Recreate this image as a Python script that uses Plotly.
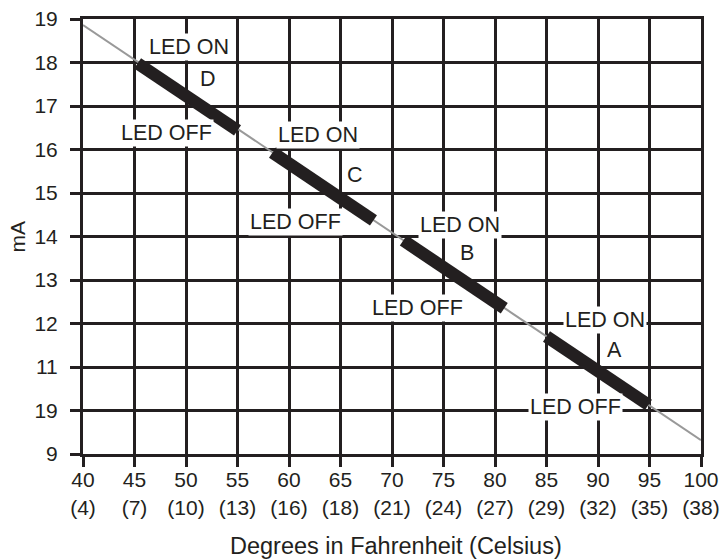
import plotly.graph_objects as go

# Data
trend_x = [40, 100]
trend_y = [18.86, 9.32]

seg_names = ["D", "C", "B", "A"]
seg_x = [[45.3, 55.0], [58.4, 68.2], [71.1, 80.9], [85.0, 94.9]]
seg_y = [[17.98, 16.44], [15.93, 14.37], [13.91, 12.35], [11.70, 10.13]]

on_pos = [(50.3, 18.36), (62.8, 16.33), (76.6, 14.26), (90.7, 12.08)]
letter_pos = [(52.1, 17.62), (66.4, 15.41), (77.3, 13.62), (91.6, 11.39)]
off_pos = [(48.1, 16.38), (60.6, 14.33), (72.5, 12.36), (87.8, 10.08)]

x_ticks = [40, 45, 50, 55, 60, 65, 70, 75, 80, 85, 90, 95, 100]
x_celsius = [4, 7, 10, 13, 16, 18, 21, 24, 27, 29, 32, 35, 38]
y_ticks = [9, 10, 11, 12, 13, 14, 15, 16, 17, 18, 19]
y_labels = ["9", "19", "11", "12", "13", "14", "15", "16", "17", "18", "19"]

INK = "#231f20"
FONT = "Liberation Sans, Arial, sans-serif"
LBL = 21.5

fig = go.Figure()
fig.add_trace(go.Scatter(x=trend_x, y=trend_y, mode="lines",
                         line=dict(color="#999999", width=2), hoverinfo="skip"))
for name, xs, ys in zip(seg_names, seg_x, seg_y):
    fig.add_trace(go.Scatter(x=xs, y=ys, mode="lines", name=name,
                             line=dict(color=INK, width=12.5)))

annotations = []
for (x, y) in on_pos:
    annotations.append(dict(x=x, y=y, text="LED ON", showarrow=False,
                            bgcolor="white", borderpad=1,
                            font=dict(size=LBL, color=INK, family=FONT)))
for name, (x, y) in zip(seg_names, letter_pos):
    annotations.append(dict(x=x, y=y, text=name, showarrow=False,
                            font=dict(size=LBL, color=INK, family=FONT)))
for (x, y) in off_pos:
    annotations.append(dict(x=x, y=y, text="LED OFF", showarrow=False,
                            bgcolor="white", borderpad=1,
                            font=dict(size=LBL, color=INK, family=FONT)))

# axis titles
annotations.append(dict(x=0.5, y=0, xref="paper", yref="paper", yshift=-92,
                        xshift=4, yanchor="middle", showarrow=False,
                        text="Degrees in Fahrenheit (Celsius)",
                        font=dict(size=23.5, color=INK, family=FONT)))
annotations.append(dict(x=0, y=0.5, xref="paper", yref="paper", xshift=-66,
                        xanchor="center", showarrow=False, textangle=-90,
                        borderpad=0,
                        text="mA", font=dict(size=21, color=INK, family=FONT)))

fig.update_layout(
    width=722, height=560,
    margin=dict(l=83, r=21, t=19, b=106),
    paper_bgcolor="white", plot_bgcolor="white",
    showlegend=False,
    font=dict(family=FONT, size=21, color=INK),
    annotations=annotations,
    xaxis=dict(
        range=[40, 100], tickvals=x_ticks,
        ticktext=[f"{f}<br>({c})" for f, c in zip(x_ticks, x_celsius)],
        showgrid=True, gridcolor=INK, gridwidth=3,
        showline=True, mirror=True, linecolor=INK, linewidth=3,
        ticks="outside", ticklen=10, tickwidth=3, tickcolor=INK,
        zeroline=False, automargin=False, ticklabelstandoff=-5,
        ticklabeloverflow="allow",
        tickfont=dict(size=21, color=INK, family=FONT),
    ),
    yaxis=dict(
        range=[9, 19], tickvals=y_ticks, ticktext=y_labels,
        showgrid=True, gridcolor=INK, gridwidth=3,
        showline=True, mirror=True, linecolor=INK, linewidth=3,
        ticks="outside", ticklen=10, tickwidth=3, tickcolor=INK,
        zeroline=False, ticklabelstandoff=8, automargin=False,
        ticklabeloverflow="allow",
        tickfont=dict(size=21, color=INK, family=FONT),
    ),
)

fig.write_html(
    "out.html",
    config={"displayModeBar": False},
    post_script="document.body.style.margin='0';document.body.style.overflow='hidden';",
)
